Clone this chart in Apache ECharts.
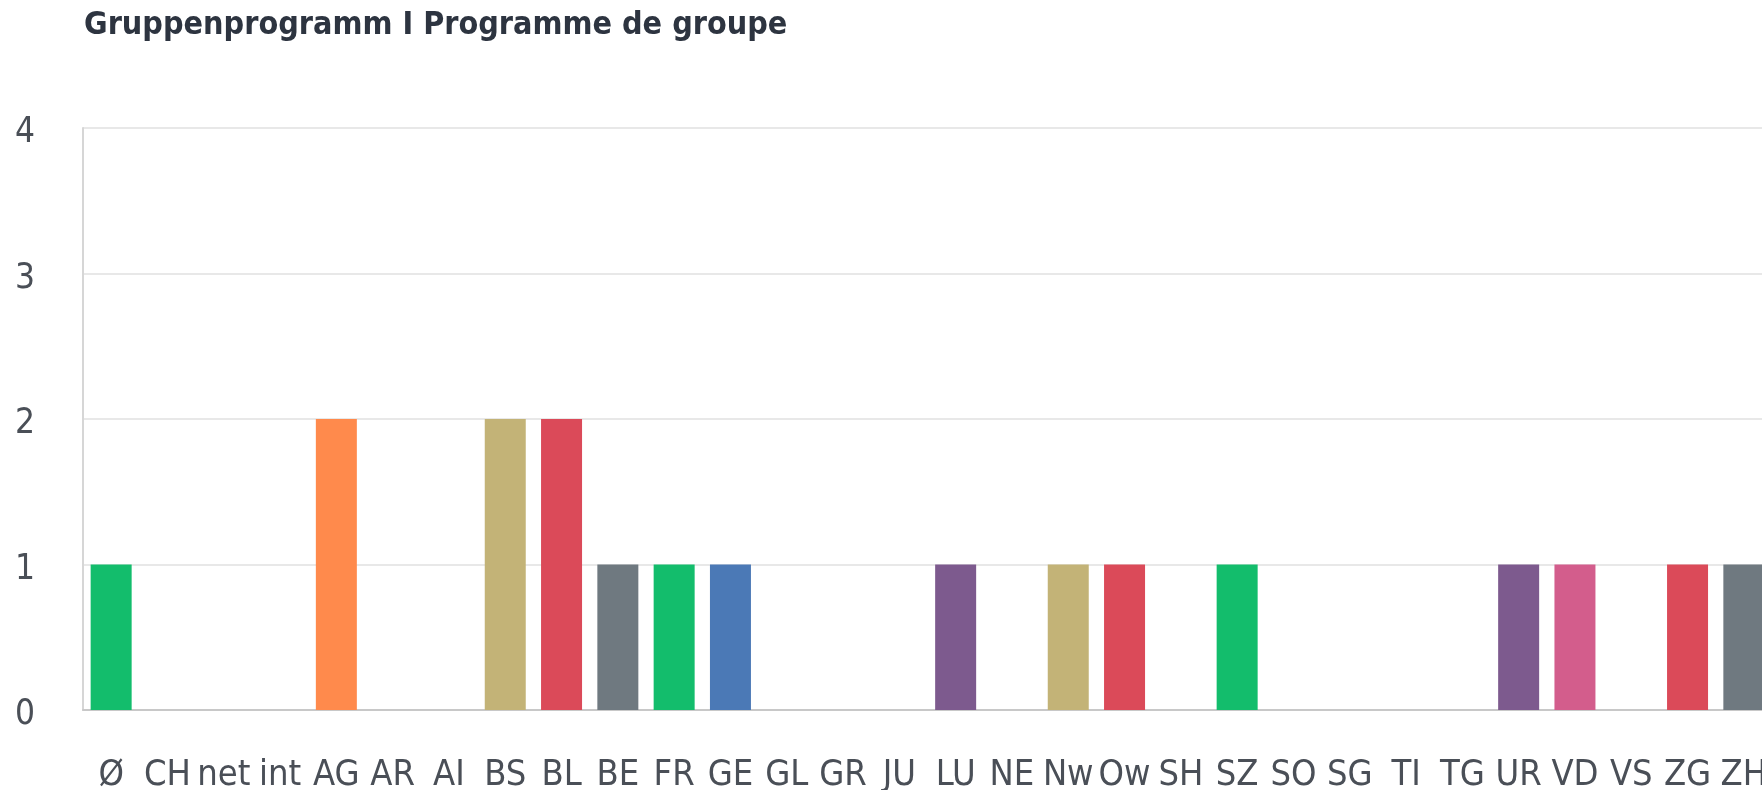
<!DOCTYPE html>
<html>
<head>
<meta charset="utf-8">
<title>Gruppenprogramm</title>
<script src="https://cdn.jsdelivr.net/npm/echarts@6/dist/echarts.min.js"></script>
<style>
  html, body { margin: 0; padding: 0; background: #fff; }
  #chart { width: 1762px; height: 790px; }
</style>
</head>
<body>
<div id="chart"></div>
<script>
// categories and values
var categories = ['Ø', 'CH', 'net', 'int', 'AG', 'AR', 'AI', 'BS', 'BL', 'BE', 'FR', 'GE', 'GL', 'GR', 'JU',
  'LU', 'NE', 'Nw', 'Ow', 'SH', 'SZ', 'SO', 'SG', 'TI', 'TG', 'UR', 'VD', 'VS', 'ZG', 'ZH'];
var values = [1, 0, 0, 0, 2, 0, 0, 2, 2, 1, 1, 1, 0, 0, 0,
  1, 0, 1, 1, 0, 1, 0, 0, 0, 0, 1, 1, 0, 1, 1];
var yTicks = [0, 1, 2, 3, 4];

// palette repeats every 10 bars
var palette = ['#13bd6c', '#4b79b6', '#f9be00', '#6bc8cd', '#ff8a4c',
  '#7d5a8e', '#d35d8c', '#c3b377', '#db4a59', '#6f7980'];

var labelFont = '"DejaVu Sans Condensed", "Liberation Sans Narrow", sans-serif';

var chart = echarts.init(document.getElementById('chart'));

var option = {
  backgroundColor: '#fff',
  animation: false,
  title: {
    text: 'Gruppenprogramm I Programme de groupe',
    left: 79,
    top: 5,
    textStyle: {
      fontFamily: labelFont,
      fontSize: 32,
      fontWeight: 600,
      color: '#2d3440'
    }
  },
  grid: {
    left: 83,
    top: 128,
    width: 1689,
    height: 582,
    outerBoundsMode: 'none'
  },
  xAxis: {
    type: 'category',
    data: categories,
    axisLine: { lineStyle: { color: '#c8c8c8', width: 2 } },
    axisTick: { show: false },
    axisLabel: {
      interval: 0,
      margin: 48,
      fontFamily: labelFont,
      fontSize: 36,
      color: '#4a4f57'
    }
  },
  yAxis: {
    type: 'value',
    min: yTicks[0],
    max: yTicks[yTicks.length - 1],
    interval: 1,
    axisLine: { show: true, lineStyle: { color: '#d6d6d6', width: 2 } },
    axisTick: { show: false },
    splitLine: { lineStyle: { color: '#e8e8e8', width: 2 } },
    axisLabel: {
      margin: 48,
      verticalAlign: 'top',
      lineHeight: 10,
      fontFamily: labelFont,
      fontSize: 35,
      color: '#4a4f57'
    }
  },
  series: [{
    type: 'bar',
    data: values,
    barWidth: 41,
    itemStyle: {
      color: function (p) { return palette[p.dataIndex % palette.length]; }
    }
  }]
};

chart.setOption(option);
</script>
</body>
</html>
